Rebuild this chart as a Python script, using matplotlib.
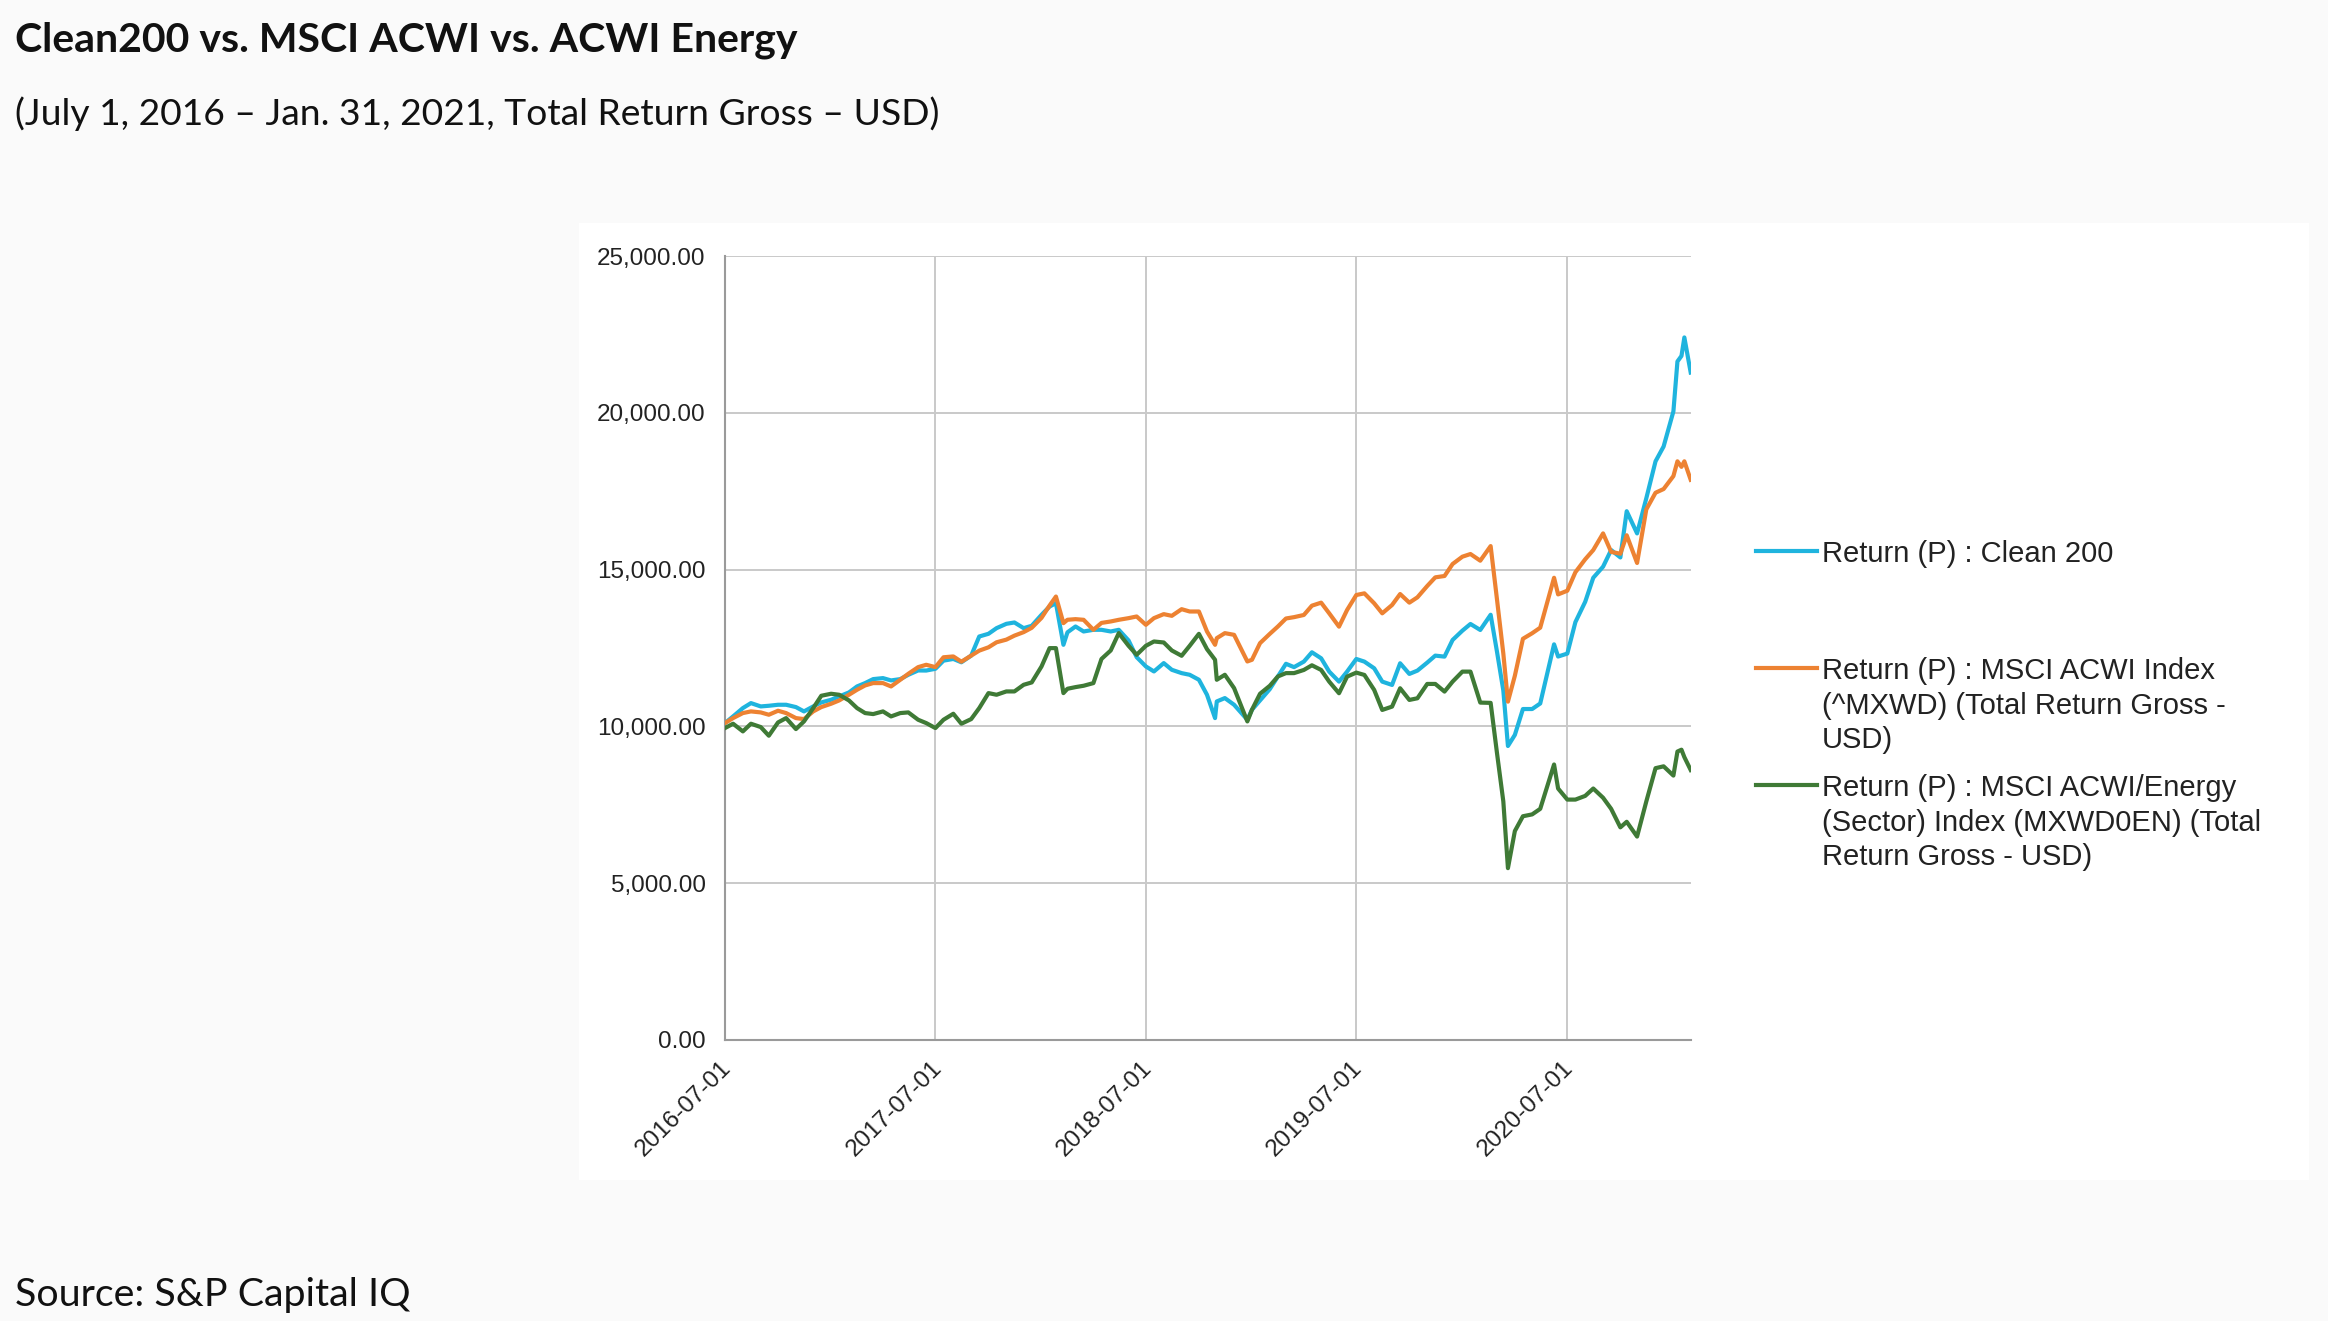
import matplotlib
matplotlib.use("Agg")
import matplotlib.pyplot as plt
import matplotlib.dates as mdates
import matplotlib.transforms as mtransforms
from matplotlib.lines import Line2D
from matplotlib.patches import Rectangle
from matplotlib.ticker import FuncFormatter
import pandas as pd

# values (index level, start = 10,000)
dates = [
    "2016-07-01", "2016-07-15", "2016-08-01", "2016-08-15", "2016-09-01", "2016-09-15",
    "2016-10-01", "2016-10-15", "2016-11-01", "2016-11-15", "2016-12-01", "2016-12-15",
    "2017-01-01", "2017-01-15", "2017-02-01", "2017-02-15", "2017-03-01", "2017-03-15",
    "2017-04-01", "2017-04-15", "2017-05-01", "2017-05-15", "2017-06-01", "2017-06-15",
    "2017-07-01", "2017-07-15", "2017-08-01", "2017-08-15", "2017-09-01", "2017-09-15",
    "2017-10-01", "2017-10-15", "2017-11-01", "2017-11-15", "2017-12-01", "2017-12-15",
    "2018-01-01", "2018-01-15", "2018-01-26", "2018-02-08", "2018-02-15", "2018-03-01",
    "2018-03-15", "2018-04-01", "2018-04-15", "2018-05-01", "2018-05-15", "2018-06-01",
    "2018-06-15", "2018-07-01", "2018-07-15", "2018-08-01", "2018-08-15", "2018-09-01",
    "2018-09-15", "2018-10-01", "2018-10-15", "2018-10-29", "2018-11-01", "2018-11-15",
    "2018-12-01", "2018-12-24", "2019-01-01", "2019-01-15", "2019-02-01", "2019-02-15",
    "2019-03-01", "2019-03-15", "2019-04-01", "2019-04-15", "2019-05-01", "2019-05-15",
    "2019-06-01", "2019-06-15", "2019-07-01", "2019-07-15", "2019-08-01", "2019-08-15",
    "2019-09-01", "2019-09-15", "2019-10-01", "2019-10-15", "2019-11-01", "2019-11-15",
    "2019-12-01", "2019-12-15", "2020-01-01", "2020-01-15", "2020-02-01", "2020-02-19",
    "2020-03-01", "2020-03-12", "2020-03-20", "2020-04-01", "2020-04-15", "2020-05-01",
    "2020-05-15", "2020-06-08", "2020-06-15", "2020-07-01", "2020-07-15", "2020-08-01",
    "2020-08-15", "2020-09-01", "2020-09-15", "2020-10-01", "2020-10-12", "2020-10-30",
    "2020-11-15", "2020-12-01", "2020-12-15", "2021-01-01", "2021-01-08", "2021-01-15",
    "2021-01-20", "2021-01-31",
]

clean200 = [
    10106, 10318, 10584, 10743, 10637, 10658, 10690, 10690, 10616, 10478, 10637, 10764,
    10849, 10956, 11083, 11274, 11381, 11508, 11540, 11466, 11508, 11646, 11784, 11781,
    11837, 12097, 12151, 12045, 12257, 12867, 12953, 13133, 13271, 13314, 13133, 13208,
    13558, 13823, 13930, 12602, 13000, 13186, 13027, 13080, 13080, 13027, 13080, 12740,
    12209, 11912, 11752, 12018, 11805, 11699, 11646, 11487, 11009, 10265, 10796, 10903,
    10690, 10212, 10531, 10828, 11190, 11593, 11996, 11890, 12066, 12363, 12172, 11747,
    11428, 11747, 12150, 12066, 11853, 11428, 11322, 12013, 11673, 11779, 12034, 12257,
    12225, 12756, 13053, 13266, 13075, 13560, 12382, 11144, 9375, 9729, 10554, 10554,
    10731, 12617, 12228, 12322, 13325, 13973, 14740, 15093, 15624, 15388, 16862, 16154,
    17274, 18453, 18925, 20045, 21637, 21814, 22403, 21283,
]

msci_acwi = [
    10106, 10265, 10425, 10478, 10446, 10372, 10499, 10425, 10265, 10233, 10478, 10616,
    10722, 10828, 11009, 11168, 11306, 11381, 11381, 11274, 11487, 11678, 11890, 11965,
    11890, 12204, 12231, 12063, 12257, 12416, 12522, 12682, 12767, 12894, 13006, 13144,
    13462, 13855, 14141, 13292, 13400, 13420, 13399, 13080, 13300, 13346, 13399, 13452,
    13505, 13240, 13452, 13580, 13526, 13738, 13664, 13664, 13027, 12602, 12814, 12974,
    12920, 12071, 12124, 12655, 12952, 13186, 13441, 13484, 13553, 13850, 13946, 13606,
    13181, 13712, 14190, 14243, 13925, 13606, 13871, 14221, 13946, 14116, 14477, 14753,
    14796, 15178, 15412, 15497, 15284, 15750, 14050, 12323, 10790, 11615, 12794, 12971,
    13148, 14740, 14209, 14327, 14916, 15329, 15624, 16154, 15565, 15506, 16095, 15211,
    16920, 17451, 17569, 17982, 18453, 18277, 18453, 17864,
]

acwi_energy = [
    9947, 10085, 9841, 10085, 9979, 9703, 10127, 10265, 9915, 10159, 10584, 10977,
    11041, 11009, 10828, 10584, 10425, 10393, 10478, 10318, 10425, 10446, 10212, 10106,
    9947, 10212, 10403, 10085, 10233, 10584, 11062, 11009, 11115, 11115, 11327, 11402,
    11911, 12496, 12496, 11062, 11200, 11253, 11296, 11381, 12150, 12421, 12974, 12570,
    12283, 12570, 12708, 12676, 12421, 12252, 12570, 12952, 12464, 12124, 11487, 11646,
    11221, 10159, 10531, 11041, 11296, 11593, 11699, 11699, 11800, 11949, 11800, 11428,
    11057, 11588, 11715, 11641, 11163, 10525, 10631, 11216, 10844, 10897, 11354, 11354,
    11110, 11428, 11747, 11747, 10759, 10750, 9150, 7607, 5480, 6663, 7135, 7194,
    7371, 8786, 8019, 7666, 7666, 7784, 8019, 7725, 7371, 6781, 6958, 6487,
    7607, 8668, 8727, 8432, 9198, 9257, 9021, 8609,
]

series_labels = [
    "Return (P) : Clean 200",
    "Return (P) : MSCI ACWI Index\n(^MXWD) (Total Return Gross -\nUSD)",
    "Return (P) : MSCI ACWI/Energy\n(Sector) Index (MXWD0EN) (Total\nReturn Gross - USD)",
]
series_colors = ["#1fb4de", "#ed8232", "#3f7a36"]
x_ticks = ["2016-07-01", "2017-07-01", "2018-07-01", "2019-07-01", "2020-07-01"]
y_ticks = [0, 5000, 10000, 15000, 20000, 25000]

W, H = 2328, 1321
fig = plt.figure(figsize=(W / 100, H / 100), dpi=100, facecolor="#fafafa")

# white panel behind the chart image
fig.add_artist(Rectangle((579 / W, 1 - 1180 / H), (2309 - 579) / W, (1180 - 223) / H,
                         transform=fig.transFigure, facecolor="white", edgecolor="none", zorder=0))

ax = fig.add_axes([725 / W, 1 - 1040 / H, (1690.7 - 725) / W, (1040 - 256) / H])
ax.set_facecolor("white")

x = pd.to_datetime(dates)
for vals, col in zip([clean200, msci_acwi, acwi_energy], series_colors):
    ax.plot(x, vals, color=col, lw=3.0, solid_joinstyle="round", zorder=3)

ax.set_xlim(pd.Timestamp("2016-07-01"), pd.Timestamp("2021-01-31"))
ax.set_ylim(0, 25000)
ax.set_yticks(y_ticks)
ax.yaxis.set_major_formatter(FuncFormatter(lambda v, p: f"{v:,.2f}"))
ax.set_xticks(pd.to_datetime(x_ticks))
ax.xaxis.set_major_formatter(mdates.DateFormatter("%Y-%m-%d"))

ax.grid(True, color="#c9c9c9", lw=1.4)
ax.set_axisbelow(True)
for s in ["top", "right"]:
    ax.spines[s].set_visible(False)
for s in ["left", "bottom"]:
    ax.spines[s].set_color("#9a9a9a")
    ax.spines[s].set_linewidth(1.5)

ax.tick_params(axis="both", length=0, colors="#222222")
ax.tick_params(axis="y", pad=14, labelsize=17.5)
ax.tick_params(axis="x", pad=13, labelsize=17.5)
shift = mtransforms.ScaledTranslation(-5 / 100, 1 / 100, fig.dpi_scale_trans)
for lab in ax.get_yticklabels():
    lab.set_fontfamily("Liberation Sans")
for lab in ax.get_xticklabels():
    lab.set_fontfamily("Liberation Sans")
    lab.set_rotation(45)
    lab.set_ha("right")
    lab.set_va("top")
    lab.set_rotation_mode("anchor")
    lab.set_transform(lab.get_transform() + shift)

# legend to the right, handle at the first line of each entry
leg_y = [551, 668, 785]
for lab, col, yy in zip(series_labels, series_colors, leg_y):
    fig.add_artist(Line2D([1756 / W, 1817 / W], [1 - yy / H, 1 - yy / H],
                          transform=fig.transFigure, color=col, lw=3.0))
    fig.text(1822 / W, 1 - (yy - 11) / H, lab, fontsize=21, family="Liberation Sans",
             color="#222222", va="top", ha="left", linespacing=1.3)

fig.text(15 / W, 1 - 40 / H, "Clean200 vs. MSCI ACWI vs. ACWI Energy", fontsize=29.5,
         fontweight="bold", family="Lato", color="#111111", va="center", ha="left")
fig.text(15 / W, 1 - 114 / H, "(July 1, 2016 \u2013 Jan. 31, 2021, Total Return Gross \u2013 USD)",
         fontsize=26.8, family="Lato", color="#111111", va="center", ha="left")
fig.text(15 / W, 1 - 1295 / H, "Source: S&P Capital IQ", fontsize=28.4, family="Lato",
         color="#111111", va="center", ha="left")

fig.savefig("out.png", dpi=100, facecolor=fig.get_facecolor())
